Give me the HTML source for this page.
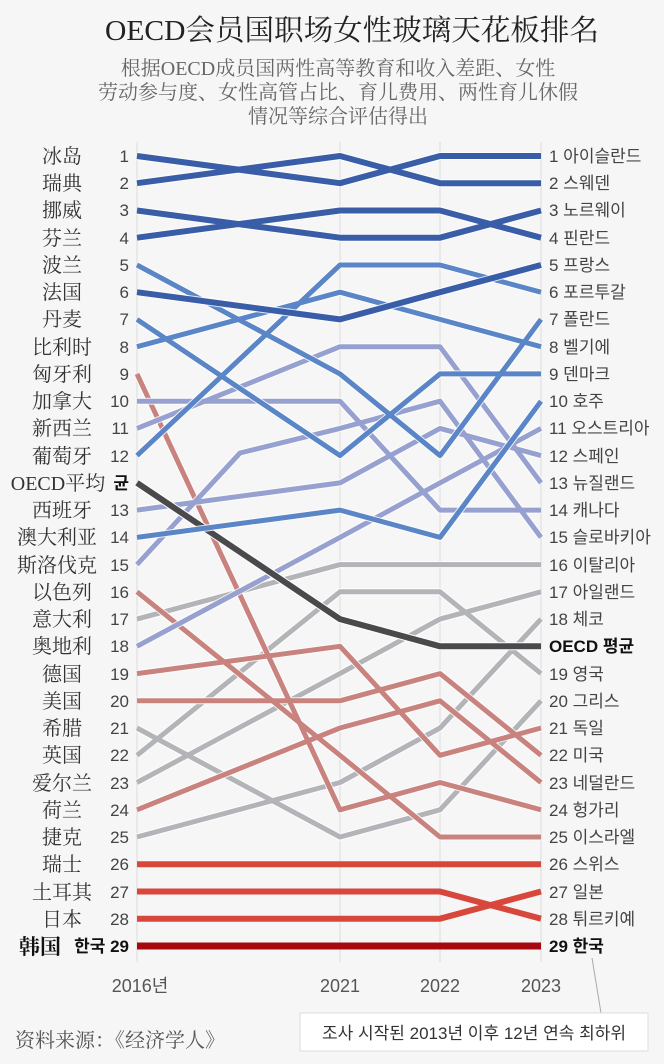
<!DOCTYPE html>
<html><head><meta charset="utf-8"><style>
body{margin:0;background:#f6f6f6;}
svg{display:block}
.cn{font-family:"Liberation Serif","Noto Serif CJK SC",serif;}
.sn{font-family:"Liberation Sans","Noto Sans CJK KR",sans-serif;}
</style></head><body>
<svg width="664" height="1064" viewBox="0 0 664 1064" xmlns="http://www.w3.org/2000/svg">
<rect width="664" height="1064" fill="#f6f6f6"/>
<text x="352" y="40" text-anchor="middle" class="cn" font-size="29" fill="#222" textLength="494" lengthAdjust="spacingAndGlyphs">OECD会员国职场女性玻璃天花板排名</text>
<g class="cn" font-size="20" fill="#666" text-anchor="middle">
<text x="338" y="75">根据OECD成员国两性高等教育和收入差距、女性</text>
<text x="338" y="99">劳动参与度、女性高管占比、育儿费用、两性育儿休假</text>
<text x="338" y="123">情况等综合评估得出</text>
</g>
<g stroke="#dcdcdc" stroke-width="1">
<line x1="137" y1="142" x2="137" y2="962"/><line x1="340" y1="142" x2="340" y2="962"/>
<line x1="440" y1="142" x2="440" y2="962"/><line x1="541" y1="142" x2="541" y2="962"/>
</g>
<g fill="none" stroke-linejoin="round" id="lines">
<g stroke="#b3b4b8"><g stroke-width="7" stroke="#fff" opacity=".8">
<polyline points="137,619.1 340,564.6 440,564.6 541,564.6"/>
<polyline points="137,728 340,837 440,809.8 541,700.8"/>
<polyline points="137,755.3 340,591.8 440,591.8 541,673.6"/>
<polyline points="137,782.5 340,673.6 440,619.1 541,591.8"/>
<polyline points="137,837 340,782.5 440,728 541,619.1"/></g>
<g stroke-width="5">
<polyline points="137,619.1 340,564.6 440,564.6 541,564.6"/>
<polyline points="137,728 340,837 440,809.8 541,700.8"/>
<polyline points="137,755.3 340,591.8 440,591.8 541,673.6"/>
<polyline points="137,782.5 340,673.6 440,619.1 541,591.8"/>
<polyline points="137,837 340,782.5 440,728 541,619.1"/></g></g>
<g stroke="#c9837f"><g stroke-width="7" stroke="#fff" opacity=".8">
<polyline points="137,373.9 340,809.8 440,782.5 541,809.8"/>
<polyline points="137,591.8 340,755.3 440,837 541,837"/>
<polyline points="137,673.6 340,646.3 440,755.3 541,728"/>
<polyline points="137,700.8 340,700.8 440,673.6 541,755.3"/>
<polyline points="137,809.8 340,728 440,700.8 541,782.5"/></g>
<g stroke-width="5">
<polyline points="137,373.9 340,809.8 440,782.5 541,809.8"/>
<polyline points="137,591.8 340,755.3 440,837 541,837"/>
<polyline points="137,673.6 340,646.3 440,755.3 541,728"/>
<polyline points="137,700.8 340,700.8 440,673.6 541,755.3"/>
<polyline points="137,809.8 340,728 440,700.8 541,782.5"/></g></g>
<g stroke="#97a1d0"><g stroke-width="7" stroke="#fff" opacity=".8">
<polyline points="137,401.2 340,401.2 440,510.1 541,510.1"/>
<polyline points="137,428.4 340,346.7 440,346.7 541,482.9"/>
<polyline points="137,510.1 340,482.9 440,428.4 541,455.6"/>
<polyline points="137,564.6 240,453 340,428.4 440,401.2 541,537.4"/>
<polyline points="137,646.3 340,537.4 440,482.9 541,428.4"/></g>
<g stroke-width="5">
<polyline points="137,401.2 340,401.2 440,510.1 541,510.1"/>
<polyline points="137,428.4 340,346.7 440,346.7 541,482.9"/>
<polyline points="137,510.1 340,482.9 440,428.4 541,455.6"/>
<polyline points="137,564.6 240,453 340,428.4 440,401.2 541,537.4"/>
<polyline points="137,646.3 340,537.4 440,482.9 541,428.4"/></g></g>
<polyline points="137,482.9 340,619.1 440,646.3 541,646.3" stroke="#fff" stroke-width="8"/>
<polyline points="137,482.9 340,619.1 440,646.3 541,646.3" stroke="#4a4a4c" stroke-width="6"/>
<g stroke="#5a85c6"><g stroke-width="7" stroke="#fff" opacity=".8">
<polyline points="137,265 340,373.9 440,455.6 541,319.4"/>
<polyline points="137,319.4 340,455.6 440,373.9 541,373.9"/>
<polyline points="137,346.7 340,292.2 440,319.4 541,346.7"/>
<polyline points="137,455.6 340,265 440,265 541,292.2"/>
<polyline points="137,537.4 340,510.1 440,537.4 541,401.2"/></g>
<g stroke-width="5">
<polyline points="137,265 340,373.9 440,455.6 541,319.4"/>
<polyline points="137,319.4 340,455.6 440,373.9 541,373.9"/>
<polyline points="137,346.7 340,292.2 440,319.4 541,346.7"/>
<polyline points="137,455.6 340,265 440,265 541,292.2"/>
<polyline points="137,537.4 340,510.1 440,537.4 541,401.2"/></g></g>
<g stroke="#3a5da8"><g stroke-width="8" stroke="#fff" opacity=".8">
<polyline points="137,156 340,183.2 440,156 541,156"/>
<polyline points="137,183.2 340,156 440,183.2 541,183.2"/>
<polyline points="137,210.5 340,237.7 440,237.7 541,210.5"/>
<polyline points="137,237.7 340,210.5 440,210.5 541,237.7"/>
<polyline points="137,292.2 340,319.4 440,292.2 541,265"/></g>
<g stroke-width="6">
<polyline points="137,156 340,183.2 440,156 541,156"/>
<polyline points="137,183.2 340,156 440,183.2 541,183.2"/>
<polyline points="137,210.5 340,237.7 440,237.7 541,210.5"/>
<polyline points="137,237.7 340,210.5 440,210.5 541,237.7"/>
<polyline points="137,292.2 340,319.4 440,292.2 541,265"/></g></g>
<g stroke="#d8473c" stroke-width="6">
<polyline points="137,864.2 340,864.2 440,864.2 541,864.2"/>
<polyline points="137,891.5 340,891.5 440,891.5 541,918.7"/>
<polyline points="137,918.7 340,918.7 440,918.7 541,891.5"/>
</g>
<polyline points="137,946 541,946" stroke="#a5090f" stroke-width="7"/>
</g>
<g class="cn" font-size="20" fill="#333" text-anchor="middle">
<text x="62" y="163">冰岛</text><text x="62" y="190">瑞典</text><text x="62" y="217">挪威</text><text x="62" y="245">芬兰</text>
<text x="62" y="272">波兰</text><text x="62" y="299">法国</text><text x="62" y="326">丹麦</text><text x="62" y="354">比利时</text>
<text x="62" y="381">匈牙利</text><text x="62" y="408">加拿大</text><text x="62" y="435">新西兰</text><text x="62" y="463">葡萄牙</text>
<text x="58" y="490">OECD平均</text><text x="62" y="517">西班牙</text><text x="57" y="544">澳大利亚</text><text x="57" y="572">斯洛伐克</text>
<text x="62" y="599">以色列</text><text x="62" y="626">意大利</text><text x="62" y="653">奥地利</text><text x="62" y="681">德国</text>
<text x="62" y="708">美国</text><text x="62" y="735">希腊</text><text x="62" y="762">英国</text><text x="62" y="790">爱尔兰</text>
<text x="62" y="817">荷兰</text><text x="62" y="844">捷克</text><text x="62" y="871">瑞士</text><text x="62" y="899">土耳其</text>
<text x="62" y="926">日本</text>
<text x="40" y="954" font-weight="bold" font-size="21" fill="#111">韩国</text>
</g>
<g class="sn" font-size="17" fill="#444" text-anchor="end">
<text x="129" y="162">1</text><text x="129" y="189">2</text><text x="129" y="216">3</text><text x="129" y="244">4</text>
<text x="129" y="271">5</text><text x="129" y="298">6</text><text x="129" y="325">7</text><text x="129" y="353">8</text>
<text x="129" y="380">9</text><text x="129" y="407">10</text><text x="129" y="434">11</text><text x="129" y="462">12</text>
<text x="129" y="489" font-weight="bold" fill="#111">균</text>
<text x="129" y="516">13</text><text x="129" y="543">14</text><text x="129" y="571">15</text>
<text x="129" y="598">16</text><text x="129" y="625">17</text><text x="129" y="652">18</text><text x="129" y="680">19</text>
<text x="129" y="707">20</text><text x="129" y="734">21</text><text x="129" y="761">22</text><text x="129" y="789">23</text>
<text x="129" y="816">24</text><text x="129" y="843">25</text><text x="129" y="870">26</text><text x="129" y="898">27</text>
<text x="129" y="925">28</text>
<text x="129" y="952" font-weight="bold" fill="#111">한국 29</text>
</g>
<g class="sn" font-size="17" fill="#444">
<text x="549" y="162">1  아이슬란드</text><text x="549" y="189">2  스웨덴</text><text x="549" y="216">3  노르웨이</text>
<text x="549" y="244">4  핀란드</text><text x="549" y="271">5  프랑스</text><text x="549" y="298">6  포르투갈</text>
<text x="549" y="325">7  폴란드</text><text x="549" y="353">8  벨기에</text><text x="549" y="380">9  덴마크</text>
<text x="549" y="407">10 호주</text><text x="549" y="434">11 오스트리아</text><text x="549" y="462">12 스페인</text>
<text x="549" y="489">13 뉴질랜드</text><text x="549" y="516">14 캐나다</text><text x="549" y="543">15 슬로바키아</text>
<text x="549" y="571">16 이탈리아</text><text x="549" y="598">17 아일랜드</text><text x="549" y="625">18 체코</text>
<text x="549" y="652" font-weight="bold" fill="#111">OECD 평균</text>
<text x="549" y="680">19 영국</text><text x="549" y="707">20 그리스</text><text x="549" y="734">21 독일</text>
<text x="549" y="761">22 미국</text><text x="549" y="789">23 네덜란드</text><text x="549" y="816">24 헝가리</text>
<text x="549" y="843">25 이스라엘</text><text x="549" y="870">26 스위스</text><text x="549" y="898">27 일본</text>
<text x="549" y="925">28 튀르키예</text>
<text x="549" y="952" font-weight="bold" fill="#111">29 한국</text>
</g>
<g class="sn" font-size="18" fill="#555" text-anchor="middle">
<text x="140" y="992">2016년</text><text x="340" y="992">2021</text><text x="440" y="992">2022</text><text x="541" y="992">2023</text>
</g>
<line x1="592" y1="958" x2="601" y2="1013" stroke="#aaa" stroke-width="1"/>
<rect x="300" y="1013" width="348" height="38" fill="#fff" stroke="#ddd"/>
<text x="474" y="1039" text-anchor="middle" class="sn" font-size="17" fill="#333">조사 시작된 2013년 이후 12년 연속 최하위</text>
<text x="15" y="1047" class="cn" font-size="20" fill="#555">资料来源：《经济学人》</text>
</svg>
</body></html>
